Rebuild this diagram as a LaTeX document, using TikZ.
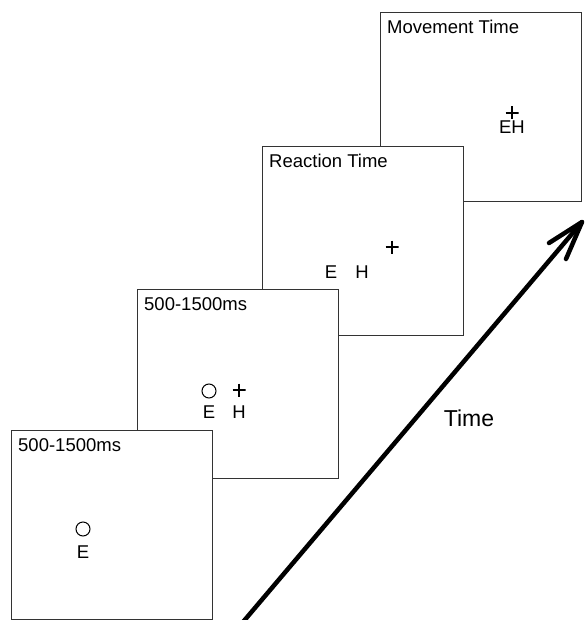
\documentclass[tikz,border=0pt]{standalone}
\usepackage{fontspec}
\setmainfont{Liberation Sans}
\usetikzlibrary{arrows.meta,positioning,calc}
\tikzset{
  screen/.style={draw=black!80, line width=1.2pt, rectangle, fill=white, minimum width=201pt, minimum height=189pt, anchor=north west, inner sep=0pt},
  caption/.style={font=\fontsize{18.5}{22}\selectfont, inner sep=0pt},
  letter/.style={font=\fontsize{18.5}{22}\selectfont, inner sep=0pt},
  eye/.style={draw=black, circle, line width=1pt, minimum size=14pt, inner sep=0pt},
  target/.style={minimum size=13pt, inner sep=0pt, path picture={
      \draw[line width=2pt] (path picture bounding box.north) -- (path picture bounding box.south)
        (path picture bounding box.west) -- (path picture bounding box.east);}},
  timeline/.style={line width=4.5pt, line cap=round, line join=round}
}

\begin{document}
\begin{tikzpicture}[x=1pt, y=-1pt]
  \useasboundingbox (0,0) rectangle (586,620);
  % screens, back to front
  \node[screen] (s4) at (380,12) {};
  \node[caption, below right=8pt and 7pt of s4.north west] (c4) {Movement Time};
  \node[target] (p4) at ($(s4.north west)+(132,101)$) {};
  \node[letter] (eh4) at ($(s4.north west)+(132,115)$) {EH};

  \node[screen] (s3) at (262,146) {};
  \node[caption, below right=8pt and 7pt of s3.north west] (c3) {Reaction Time};
  \node[target] (p3) at ($(s3.north west)+(130,101)$) {};
  \node[letter] (e3) at ($(s3.north west)+(69,126)$) {E};
  \node[letter] (h3) at ($(s3.north west)+(100,126)$) {H};

  \node[screen] (s2) at (137,289) {};
  \node[caption, below right=8pt and 7pt of s2.north west] (c2) {500-1500ms};
  \node[eye] (o2) at ($(s2.north west)+(72,102)$) {};
  \node[target] (p2) at ($(s2.north west)+(102,101)$) {};
  \node[letter] (e2) at ($(s2.north west)+(72,123)$) {E};
  \node[letter] (h2) at ($(s2.north west)+(102,123)$) {H};

  \node[screen] (s1) at (11,430) {};
  \node[caption, below right=8pt and 7pt of s1.north west] (c1) {500-1500ms};
  \node[eye] (o1) at ($(s1.north west)+(72,99)$) {};
  \node[letter] (e1) at ($(s1.north west)+(72,122)$) {E};

  % time axis
  \coordinate (t0) at (243,622);
  \coordinate (t1) at (582,222);
  \coordinate (b1) at (549,243);
  \coordinate (b2) at (566,259);
  \draw[timeline] (t0) -- (t1);
  \draw[timeline] (b1) -- (t1) -- (b2);
  \node[caption, font=\fontsize{23}{27}\selectfont] (time) at (469,418) {Time};
\end{tikzpicture}
\end{document}
